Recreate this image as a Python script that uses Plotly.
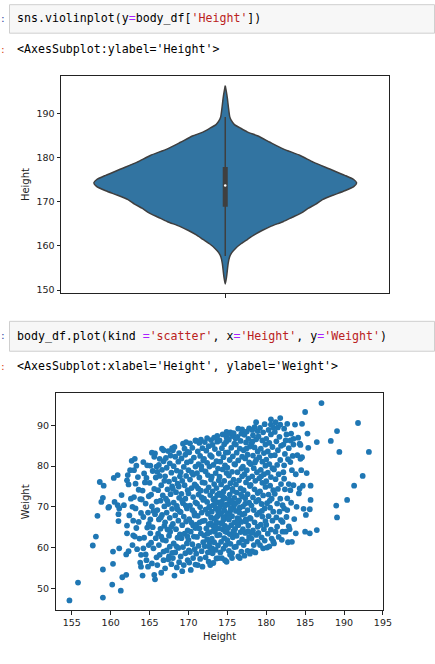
import plotly.graph_objects as go

# ---------------- data: violin (density profile) ----------------
violin_heights = [151.4, 153.0, 154.5, 156.0, 157.5, 158.5, 159.5, 160.5, 161.5, 162.5,
                  163.5, 164.5, 165.5, 166.5, 167.5, 168.5, 169.5, 170.5, 171.5, 172.5,
                  173.5, 174.3, 175.0, 176.0, 177.5, 179.0, 180.5, 182.0, 183.5, 184.9,
                  185.8, 186.8, 187.5, 188.5, 189.3, 190.5, 192.0, 193.5, 195.0, 196.3]
violin_density = [0.0, 0.010, 0.016, 0.022, 0.033, 0.05, 0.08, 0.12, 0.17, 0.22,
                  0.28, 0.35, 0.44, 0.51, 0.58, 0.63, 0.69, 0.74, 0.82, 0.91,
                  0.98, 1.0, 0.98, 0.91, 0.79, 0.67, 0.57, 0.44, 0.34, 0.25,
                  0.17, 0.11, 0.07, 0.045, 0.034, 0.028, 0.022, 0.016, 0.008, 0.0]
box_q1, box_median, box_q3 = 168.9, 173.7, 177.9
whisker_low, whisker_high = 157.75, 189.2

# ---------------- data: scatter (Height, Weight) ----------------
pts_left = [(154.7, 47.0), (155.8, 51.4), (157.7, 60.5), (158.1, 62.7), (158.3, 67.8), (159.0, 54.6),
            (159.0, 47.7), (158.6, 76.1), (159.1, 75.2), (158.8, 71.2), (159.0, 72.2), (159.7, 69.8),
            (160.2, 50.9), (160.3, 56.0), (160.3, 59.0), (160.4, 77.1), (160.9, 77.8), (160.5, 71.2),
            (161.0, 66.5), (161.1, 59.8), (161.3, 49.4), (161.5, 52.7), (161.0, 68.2), (161.7, 70.4),
            (160.9, 70.4), (159.8, 70.0), (161.4, 72.9), (161.1, 69.6)]
pts_162 = [(162.1, 63.5), (162.1, 65.4), (162.0, 58.3), (162.0, 53.3), (162.3, 59.1), (162.8, 60.6),
           (162.9, 66.6), (162.3, 75.5), (162.2, 77.8), (162.1, 76.5), (162.5, 79.0), (162.7, 81.3),
           (162.6, 72.0), (162.8, 70.0), (162.4, 67.9), (162.9, 63.0),
           (163.1, 62.7), (163.4, 59.6), (163.6, 66.3), (163.8, 56.3), (163.9, 55.3), (163.7, 62.2),
           (163.2, 69.6), (163.0, 72.4), (163.2, 75.7), (163.0, 79.0), (163.1, 81.8), (163.5, 77.3),
           (163.8, 71.9), (163.6, 74.2), (163.3, 64.8), (163.9, 58.2), (163.9, 68.5), (163.3, 80.1)]
pts_164 = [(164.1, 53.1), (164.2, 59.8), (164.6, 56.9), (164.8, 55.3), (164.9, 60.6), (164.3, 62.4),
           (164.7, 64.9), (164.2, 67.5), (164.5, 70.8), (164.9, 72.6), (164.1, 74.0), (164.4, 76.0),
           (164.6, 77.1), (164.3, 78.2), (164.7, 80.2), (164.2, 81.0), (164.8, 68.6), (164.5, 58.3),
           (164.9, 65.8), (164.0, 71.8),
           (165.1, 63.5), (165.5, 59.8), (165.6, 53.3), (165.7, 52.2), (165.3, 56.1), (165.9, 57.6),
           (165.2, 61.2), (165.8, 62.3), (165.4, 65.0), (165.1, 66.9), (165.7, 68.2), (165.3, 70.1),
           (165.9, 71.3), (165.2, 73.0), (165.6, 74.4), (165.0, 75.9), (165.8, 77.2), (165.4, 78.8),
           (165.1, 80.1), (165.6, 82.3), (165.7, 83.1), (165.3, 83.3), (165.9, 79.9), (165.5, 69.0)]
pts_166 = [(166.0, 55.7), (166.3, 58.2), (166.8, 56.9), (166.8, 59.0), (166.5, 53.8), (166.2, 60.6),
           (166.7, 61.9), (166.1, 63.4), (166.4, 64.6), (166.9, 65.3), (166.2, 66.9), (166.6, 68.0),
           (166.0, 69.2), (166.9, 70.1), (166.4, 71.5), (166.7, 72.8), (166.1, 74.1), (166.5, 75.3),
           (166.9, 76.4), (166.3, 77.6), (166.6, 79.1), (166.2, 80.3), (166.8, 81.2), (166.3, 81.8),
           (166.8, 83.9), (166.6, 84.3), (166.0, 78.6), (166.5, 62.7),
           (167.0, 54.9), (167.4, 57.1), (167.8, 55.9), (167.2, 59.3), (167.6, 60.2), (167.9, 58.7),
           (167.1, 61.7), (167.5, 62.9), (167.3, 64.4), (167.8, 65.1), (167.0, 66.2), (167.6, 67.3),
           (167.2, 68.6), (167.9, 69.5), (167.4, 70.7), (167.1, 72.0), (167.7, 73.1), (167.3, 74.3),
           (167.9, 75.0), (167.5, 76.2), (167.0, 77.5), (167.8, 78.4), (167.2, 79.6), (167.6, 80.7),
           (167.1, 82.0), (167.7, 82.6), (167.4, 83.7), (167.9, 84.4), (167.3, 71.4), (167.5, 57.8)]
pts_168 = [(168.2, 53.1), (168.0, 57.4), (168.5, 55.1), (168.8, 56.4), (168.3, 58.8), (168.7, 59.9),
           (168.1, 61.0), (168.6, 62.4), (168.9, 63.2), (168.4, 64.5), (168.0, 65.8), (168.7, 66.6),
           (168.3, 67.9), (168.9, 68.8), (168.5, 70.2), (168.1, 71.0), (168.8, 72.2), (168.4, 73.6),
           (168.0, 74.4), (168.6, 75.7), (168.2, 76.8), (168.9, 77.5), (168.5, 78.9), (168.1, 80.0),
           (168.7, 81.1), (168.3, 82.3), (168.0, 83.9), (168.2, 84.7), (168.8, 83.2), (168.6, 69.4),
           (169.2, 54.2), (169.4, 55.7), (169.9, 56.9), (169.0, 57.8), (169.6, 58.6), (169.3, 60.1),
           (169.8, 61.0), (169.1, 62.3), (169.5, 63.4), (169.9, 64.2), (169.2, 65.5), (169.7, 66.4),
           (169.4, 67.6), (169.0, 68.7), (169.8, 69.6), (169.3, 70.9), (169.6, 72.0), (169.1, 73.2),
           (169.9, 74.1), (169.5, 75.3), (169.2, 76.4), (169.7, 77.6), (169.0, 78.5), (169.4, 79.8),
           (169.8, 80.9), (169.1, 81.9), (169.6, 82.8), (169.3, 85.5), (169.7, 85.9), (169.5, 84.3),
           (169.9, 83.5), (169.2, 71.5)]
pts_170 = [(170.3, 54.5), (170.1, 56.3), (170.6, 57.4), (170.9, 55.8), (170.2, 58.9), (170.8, 59.6),
           (170.5, 60.8), (170.0, 61.9), (170.7, 62.7), (170.3, 63.9), (170.9, 64.8), (170.4, 66.1),
           (170.1, 67.0), (170.8, 67.9), (170.5, 69.2), (170.2, 70.3), (170.9, 71.1), (170.6, 72.4),
           (170.0, 73.3), (170.4, 74.6), (170.8, 75.5), (170.2, 76.7), (170.6, 77.9), (170.0, 79.0),
           (170.9, 79.9), (170.3, 81.2), (170.7, 82.1), (170.1, 83.4), (170.5, 84.5), (170.9, 86.3),
           (170.2, 85.6), (170.6, 65.4),
           (171.2, 55.7), (171.8, 55.3), (171.5, 57.2), (171.0, 58.5), (171.7, 59.1), (171.3, 60.4),
           (171.9, 61.3), (171.1, 62.6), (171.6, 63.5), (171.4, 64.7), (171.0, 65.6), (171.8, 66.5),
           (171.2, 67.8), (171.7, 68.6), (171.5, 69.9), (171.1, 70.8), (171.9, 71.7), (171.3, 73.0),
           (171.6, 74.0), (171.0, 75.1), (171.8, 76.0), (171.4, 77.2), (171.1, 78.3), (171.7, 79.2),
           (171.3, 80.5), (171.9, 81.4), (171.5, 82.5), (171.2, 83.6), (171.8, 84.4), (171.4, 85.7),
           (171.0, 86.2), (171.6, 86.5), (171.7, 72.3)]
pts_172 = [(172.6, 56.5), (172.8, 55.7), (172.2, 57.6), (172.5, 58.8), (172.9, 59.5), (172.1, 60.3),
           (172.7, 61.2), (172.4, 62.0), (172.0, 63.0), (172.8, 63.8), (172.3, 64.7), (172.6, 65.6),
           (172.1, 66.6), (172.9, 67.4), (172.5, 68.3), (172.2, 69.3), (172.7, 70.1), (172.4, 71.2),
           (172.0, 72.0), (172.8, 72.9), (172.3, 73.9), (172.6, 74.8), (172.1, 75.9), (172.9, 76.7),
           (172.5, 77.8), (172.2, 78.7), (172.7, 79.9), (172.4, 80.8), (172.0, 81.8), (172.8, 82.7),
           (172.3, 83.8), (172.6, 84.9), (172.1, 85.9), (172.4, 86.9), (172.9, 86.4), (172.7, 60.2),
           (173.2, 56.2), (173.6, 57.3), (173.9, 57.4), (173.1, 58.6), (173.5, 59.4), (173.8, 60.5),
           (173.3, 61.3), (173.0, 62.2), (173.7, 63.0), (173.4, 63.9), (173.9, 64.7), (173.1, 65.5),
           (173.6, 66.2), (173.3, 67.1), (173.8, 67.9), (173.0, 68.8), (173.5, 69.6), (173.2, 70.4),
           (173.9, 71.1), (173.4, 72.0), (173.7, 72.9), (173.1, 73.8), (173.6, 74.6), (173.3, 75.6),
           (173.9, 76.5), (173.0, 77.4), (173.5, 78.3), (173.8, 79.4), (173.2, 80.3), (173.6, 81.2),
           (173.0, 82.3), (173.9, 83.1), (173.4, 84.2), (173.1, 85.2), (173.7, 86.0), (173.7, 87.4),
           (173.3, 87.0), (173.5, 65.0), (173.8, 69.0), (173.2, 71.8)]
pts_174 = [(174.3, 57.4), (174.7, 56.9), (174.9, 56.5), (174.1, 58.8), (174.5, 59.7), (174.8, 60.6),
           (174.2, 61.4), (174.6, 62.3), (174.0, 63.1), (174.9, 63.8), (174.4, 64.5), (174.7, 65.3),
           (174.1, 66.0), (174.5, 66.8), (174.8, 67.6), (174.2, 68.3), (174.6, 69.1), (174.0, 69.8),
           (174.9, 70.6), (174.3, 71.3), (174.7, 72.1), (174.1, 72.9), (174.5, 73.7), (174.8, 74.6),
           (174.2, 75.5), (174.6, 76.4), (174.0, 77.4), (174.9, 78.3), (174.4, 79.2), (174.7, 80.2),
           (174.1, 81.1), (174.5, 82.2), (174.8, 83.3), (174.3, 84.4), (174.6, 85.4), (174.0, 86.3),
           (174.9, 87.1), (174.4, 87.8), (174.9, 88.4), (174.5, 67.3), (174.2, 70.7), (174.7, 64.0),
           (175.6, 57.4), (175.6, 58.6), (175.2, 59.2), (175.9, 60.1), (175.4, 60.9), (175.0, 61.8),
           (175.7, 62.5), (175.3, 63.3), (175.8, 64.1), (175.1, 64.8), (175.5, 65.5), (175.9, 66.2),
           (175.2, 66.9), (175.6, 67.7), (175.0, 68.4), (175.4, 69.1), (175.8, 69.9), (175.1, 70.6),
           (175.5, 71.4), (175.9, 72.2), (175.3, 73.0), (175.7, 73.9), (175.0, 74.8), (175.4, 75.8),
           (175.8, 76.7), (175.2, 77.7), (175.6, 78.6), (175.0, 79.6), (175.9, 80.5), (175.3, 81.5),
           (175.7, 82.4), (175.1, 83.4), (175.5, 84.5), (175.9, 85.5), (175.2, 86.5), (175.6, 87.4),
           (175.0, 87.9), (175.4, 88.3), (175.8, 88.1), (175.3, 68.0), (175.7, 71.0)]
pts_176 = [(176.4, 57.8), (176.8, 59.0), (176.6, 57.4), (176.1, 60.2), (176.5, 61.2), (176.9, 62.0),
           (176.2, 62.9), (176.7, 63.8), (176.0, 64.6), (176.4, 65.5), (176.8, 66.3), (176.3, 67.2),
           (176.9, 68.1), (176.1, 69.0), (176.6, 69.8), (176.0, 70.7), (176.5, 71.6), (176.9, 72.6),
           (176.2, 73.5), (176.7, 74.5), (176.1, 75.5), (176.5, 76.5), (176.9, 77.5), (176.3, 78.5),
           (176.8, 79.4), (176.0, 80.4), (176.4, 81.4), (176.9, 82.3), (176.2, 83.3), (176.6, 84.3),
           (176.1, 85.3), (176.7, 86.2), (176.3, 87.2), (176.8, 88.0), (176.4, 89.2), (176.9, 89.0),
           (176.5, 67.0),
           (177.2, 58.0), (177.6, 59.2), (177.9, 58.5), (177.1, 60.6), (177.5, 61.5), (177.8, 62.6),
           (177.3, 63.6), (177.0, 64.5), (177.7, 65.4), (177.4, 66.4), (177.9, 67.3), (177.2, 68.3),
           (177.6, 69.2), (177.0, 70.1), (177.8, 71.0), (177.3, 72.1), (177.6, 73.1), (177.1, 74.1),
           (177.9, 75.1), (177.4, 76.0), (177.7, 77.0), (177.2, 78.0), (177.5, 79.0), (177.0, 79.9),
           (177.8, 80.9), (177.3, 81.9), (177.6, 82.8), (177.1, 83.9), (177.9, 84.8), (177.4, 85.8),
           (177.7, 86.7), (177.2, 87.7), (177.5, 88.5), (177.8, 89.3), (177.3, 70.8)]
pts_178 = [(178.4, 60.6), (178.9, 61.4), (178.2, 59.1), (178.6, 58.8), (178.1, 62.2), (178.7, 63.1),
           (178.3, 64.2), (178.9, 65.1), (178.5, 66.2), (178.0, 67.1), (178.8, 68.1), (178.4, 69.2),
           (178.1, 70.3), (178.7, 71.3), (178.3, 72.3), (178.9, 73.4), (178.5, 74.3), (178.0, 75.4),
           (178.6, 76.4), (178.2, 77.5), (178.8, 78.5), (178.4, 79.5), (178.0, 80.5), (178.7, 81.5),
           (178.3, 82.6), (178.9, 83.6), (178.5, 84.6), (178.1, 85.6), (178.7, 86.6), (178.3, 87.6),
           (178.9, 88.6), (178.5, 89.6), (178.7, 90.8), (178.2, 88.9),
           (179.6, 59.8), (179.2, 60.6), (179.8, 61.7), (179.4, 62.5), (179.0, 63.6), (179.7, 64.5),
           (179.3, 65.6), (179.9, 66.5), (179.5, 67.6), (179.1, 68.6), (179.8, 69.6), (179.4, 70.7),
           (179.0, 71.7), (179.6, 72.8), (179.2, 73.8), (179.9, 74.9), (179.5, 75.9), (179.1, 77.0),
           (179.7, 78.0), (179.3, 79.1), (179.9, 80.1), (179.5, 81.1), (179.1, 82.2), (179.7, 83.2),
           (179.3, 84.3), (179.9, 85.3), (179.5, 86.3), (179.0, 87.3), (179.6, 88.3), (179.2, 89.4),
           (179.8, 90.3)]
pts_180 = [(180.1, 60.0), (180.7, 62.2), (180.4, 60.3), (180.9, 61.5), (180.2, 63.4), (180.6, 64.4),
           (180.0, 65.6), (180.8, 66.6), (180.3, 67.7), (180.9, 68.8), (180.5, 69.8), (180.1, 70.9),
           (180.7, 72.0), (180.3, 73.0), (180.9, 74.1), (180.5, 75.2), (180.0, 76.3), (180.6, 77.3),
           (180.2, 78.4), (180.8, 79.5), (180.4, 80.5), (180.0, 81.6), (180.6, 82.6), (180.2, 83.6),
           (180.8, 84.7), (180.4, 85.7), (180.0, 86.7), (180.6, 87.8), (180.3, 88.9), (180.6, 91.5),
           (180.6, 90.2), (180.9, 89.5),
           (181.4, 65.1), (181.7, 68.8), (181.4, 70.8), (181.0, 61.0), (181.6, 62.6), (181.2, 63.9),
           (181.9, 66.7), (181.3, 67.4), (181.8, 72.0), (181.1, 73.2), (181.5, 74.4), (181.9, 75.6),
           (181.2, 76.8), (181.6, 78.0), (181.0, 79.2), (181.4, 80.3), (181.8, 81.5), (181.1, 82.7),
           (181.5, 83.9), (181.9, 85.0), (181.3, 86.1), (181.7, 87.2), (181.1, 88.4), (181.5, 89.5),
           (181.8, 91.8), (181.8, 90.2), (181.2, 90.8)]
pts_182 = [(182.1, 63.9), (182.5, 63.9), (182.8, 61.3), (182.1, 66.3), (182.3, 69.6), (182.3, 76.9),
           (182.3, 80.2), (182.5, 86.3), (182.7, 90.4), (182.7, 69.2), (182.1, 70.4), (182.7, 72.1),
           (182.4, 74.3), (182.9, 75.6), (182.2, 78.5), (182.8, 81.7), (182.4, 83.0), (182.9, 84.4),
           (182.2, 85.3), (182.6, 87.8), (182.3, 89.2), (182.9, 65.2), (182.6, 67.5), (182.0, 61.9),
           (183.3, 61.4), (183.8, 63.5), (183.1, 74.1), (183.5, 75.3), (183.1, 81.0), (183.3, 79.0),
           (183.5, 85.3), (183.1, 86.3), (183.7, 90.2), (183.5, 86.7), (183.2, 71.0), (183.6, 67.0),
           (183.9, 70.0), (183.4, 82.5), (183.8, 78.0), (183.2, 88.0), (183.0, 64.5)]
pts_right = [(184.0, 82.7), (184.4, 81.8), (184.3, 85.5), (184.6, 90.4), (184.3, 74.5), (184.2, 73.3),
             (184.7, 75.2), (184.6, 82.2), (184.4, 85.2), (184.1, 87.0), (184.5, 79.0), (184.8, 69.5),
             (185.0, 93.3), (185.3, 88.0), (185.4, 84.5), (185.2, 78.3), (185.7, 75.2), (185.7, 71.7),
             (185.6, 69.4), (185.1, 68.0), (185.0, 63.9), (185.6, 63.5), (186.5, 64.3), (186.5, 85.9),
             (187.1, 95.5), (188.3, 86.2), (189.1, 88.6), (189.4, 83.5), (189.0, 70.3), (189.1, 67.4),
             (190.4, 71.7), (191.3, 75.2), (191.8, 90.6), (192.4, 77.6), (193.2, 83.5)]
pts_core = [(172.45, 63.4), (172.85, 66.0), (173.25, 64.3), (173.65, 67.5), (174.35, 65.9), (174.05, 68.6),
            (174.65, 70.2), (175.15, 67.2), (175.45, 69.6), (175.85, 63.7), (176.25, 65.9), (176.55, 68.6),
            (173.45, 70.9), (174.45, 72.5), (175.25, 71.8), (176.35, 71.2), (172.65, 69.8), (173.95, 73.3),
            (175.65, 74.4), (176.75, 73.0), (177.35, 66.9), (177.65, 64.0), (171.45, 66.2), (170.75, 68.5),
            (171.25, 74.5), (169.65, 70.3), (168.75, 75.0), (170.45, 78.4), (171.65, 80.0), (178.55, 80.9),
            (179.35, 77.5), (177.45, 84.3), (178.25, 86.1), (176.05, 86.8), (174.85, 86.0), (169.85, 62.8),
            (168.45, 60.3), (170.05, 59.3), (173.05, 59.8), (175.35, 58.2), (178.15, 63.6), (179.45, 69.0),
            (180.45, 71.5), (167.65, 63.9), (166.45, 67.4)]

all_pts = (pts_left + pts_162 + pts_164 + pts_166 + pts_168 + pts_170 + pts_172 +
           pts_174 + pts_176 + pts_178 + pts_180 + pts_182 + pts_right + pts_core)
scatter_height = [p[0] for p in all_pts]
scatter_weight = [p[1] for p in all_pts]

x_ticks = [155, 160, 165, 170, 175, 180, 185, 190, 195]
w_ticks = [50, 60, 70, 80, 90]
h_ticks = [150, 160, 170, 180, 190]

# ---------------- figure ----------------
W, H = 435, 664
def px(x):
    return x / W
def py(y):
    return 1 - y / H

VIOLIN_FILL = "#3274a1"
EDGE = "#3f3f3f"
half = 0.4  # seaborn violin half-width in category units

fig = go.Figure()

# violin body
vx = [d * half for d in violin_density] + [-d * half for d in violin_density[::-1]]
vy = violin_heights + violin_heights[::-1]
fig.add_trace(go.Scatter(x=vx, y=vy, mode="lines", fill="toself", fillcolor=VIOLIN_FILL,
                         line=dict(color=EDGE, width=1.5, shape="spline", smoothing=0.6),
                         xaxis="x", yaxis="y", hoverinfo="skip", showlegend=False))
# whisker
fig.add_trace(go.Scatter(x=[0, 0], y=[whisker_low, whisker_high], mode="lines",
                         line=dict(color=EDGE, width=1.5), xaxis="x", yaxis="y",
                         hoverinfo="skip", showlegend=False))
# box
fig.add_trace(go.Scatter(x=[0, 0], y=[box_q1, box_q3], mode="lines",
                         line=dict(color=EDGE, width=5), xaxis="x", yaxis="y",
                         hoverinfo="skip", showlegend=False))
# median
fig.add_trace(go.Scatter(x=[0], y=[box_median], mode="markers",
                         marker=dict(color="white", size=2.5), xaxis="x", yaxis="y",
                         hoverinfo="skip", showlegend=False))

# scatter
fig.add_trace(go.Scatter(x=scatter_height, y=scatter_weight, mode="markers",
                         marker=dict(color="#1f77b4", size=5.8, line=dict(width=0)),
                         xaxis="x2", yaxis="y2", showlegend=False))

tick_font = dict(family="DejaVu Sans", size=9.5, color="#222")
axis_common = dict(showline=True, linecolor="#222", linewidth=1, mirror=True,
                   ticks="outside", ticklen=3.5, tickwidth=0.8, tickcolor="#222",
                   showgrid=False, zeroline=False, tickfont=tick_font, fixedrange=True)

fig.update_layout(
    width=W, height=H, margin=dict(l=0, r=0, t=0, b=0),
    paper_bgcolor="white", plot_bgcolor="white",
    xaxis=dict(domain=[px(62.3), px(397.7)], range=[-0.5, 0.5], anchor="y",
               tickvals=[0], ticktext=[""], **axis_common),
    yaxis=dict(domain=[py(294.3), py(76.7)], range=[149.25, 198.4], anchor="x",
               tickvals=h_ticks, **axis_common),
    xaxis2=dict(domain=[px(56.7), px(391.0)], range=[152.91, 195.0], anchor="y2",
                tickvals=x_ticks, **axis_common),
    yaxis2=dict(domain=[py(612.3), py(394.3)], range=[44.54, 97.94], anchor="x2",
                tickvals=w_ticks, **axis_common),
)

# notebook code cells (gray boxes)
for (y0, y1) in [(4.7, 33.3), (322.3, 352.3)]:
    fig.add_shape(type="rect", xref="paper", yref="paper", x0=px(9.7), x1=1.02,
                  y0=py(y1), y1=py(y0), fillcolor="#f7f7f7",
                  line=dict(color="#cfcfcf", width=1), layer="below")

code_font = dict(family="DejaVu Sans Mono", size=11.6, color="#000")
EQ = "<span style='color:#aa22ff'>=</span>"
def s(t):
    return "<span style='color:#ba2121'>" + t + "</span>"

texts = [
    (15, 18.5, "sns.violinplot(y" + EQ + "body_df[" + s("'Height'") + "])"),
    (15, 49.3, "&lt;AxesSubplot:ylabel='Height'&gt;"),
    (15, 337.0, "body_df.plot(kind " + EQ + s("'scatter'") + ", x" + EQ + s("'Height'") +
     ", y" + EQ + s("'Weight'") + ")"),
    (15, 367.3, "&lt;AxesSubplot:xlabel='Height', ylabel='Weight'&gt;"),
]
for x, y, t in texts:
    fig.add_annotation(x=px(x), y=py(y), xref="paper", yref="paper", text=t, showarrow=False,
                       xanchor="left", yanchor="middle", font=code_font)

# prompt colons (the "In [ ]:" / "Out[ ]:" prompts are cut off at the left edge)
for y, c in [(18.5, "#303F9F"), (49.3, "#D84315"), (337.0, "#303F9F"), (367.3, "#D84315")]:
    fig.add_annotation(x=0, y=py(y), xref="paper", yref="paper", text=":", showarrow=False,
                       xanchor="left", yanchor="middle", borderpad=0,
                       font=dict(family="DejaVu Sans", size=11, color=c))

# axis titles
title_font = dict(family="DejaVu Sans", size=10, color="#222")
fig.add_annotation(x=px(26.7), y=py(185.5), xref="paper", yref="paper", text="Height", textangle=-90,
                   showarrow=False, xanchor="center", yanchor="middle", font=title_font)
fig.add_annotation(x=px(26.0), y=py(503.3), xref="paper", yref="paper", text="Weight", textangle=-90,
                   showarrow=False, xanchor="center", yanchor="middle", font=title_font)
fig.add_annotation(x=px(223.8), y=py(638.3), xref="paper", yref="paper", text="Height",
                   showarrow=False, xanchor="center", yanchor="middle", font=title_font)

fig.write_html("out.html", config={"displayModeBar": False},
               post_script="document.body.style.margin='0';")
